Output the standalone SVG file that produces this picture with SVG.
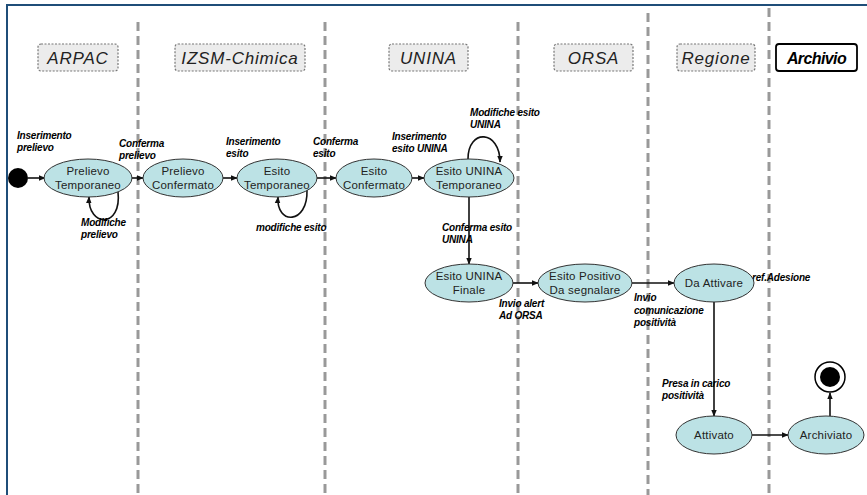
<svg xmlns="http://www.w3.org/2000/svg" width="867" height="495" viewBox="0 0 867 495">
<defs>
<marker id="ah" viewBox="0 0 10 10" refX="9" refY="5" markerWidth="7" markerHeight="7" orient="auto" markerUnits="userSpaceOnUse">
<path d="M0,1 L10,5 L0,9 z" fill="#111"/>
</marker>
<style>
.sep{stroke:#999;stroke-width:3;stroke-dasharray:9 5;fill:none}
.hdr{fill:#ececec;stroke:#777;stroke-width:1.2;stroke-dasharray:2 1.5}
.ht{font-family:"Liberation Sans",Arial,sans-serif;font-size:17px;font-style:italic;fill:#222;text-anchor:middle;letter-spacing:0.8px}
.st{fill:#BCE2E5;stroke:#333;stroke-width:1}
.nt{font-family:"Liberation Sans",Arial,sans-serif;font-size:11.5px;fill:#222;text-anchor:middle;letter-spacing:0.2px}
.lb{font-family:"Liberation Sans",Arial,sans-serif;font-size:10px;font-weight:bold;font-style:italic;fill:#000;letter-spacing:-0.2px}
.cn{stroke:#111;stroke-width:1.6;fill:none;marker-end:url(#ah)}
</style>
</defs>
<rect x="0" y="0" width="867" height="495" fill="#fff"/>
<rect x="7" y="5" width="880" height="510" fill="none" stroke="#1F4E79" stroke-width="2"/>
<g id="separators">
<line class="sep" x1="138" y1="22" x2="138" y2="495"/>
<line class="sep" x1="325" y1="22" x2="325" y2="495"/>
<line class="sep" x1="518" y1="22" x2="518" y2="495"/>
<line class="sep" x1="648" y1="13" x2="648" y2="495"/>
<line class="sep" x1="769" y1="8" x2="769" y2="495"/>
</g>
<g id="lane-ARPAC"><rect class="hdr" x="38" y="44" width="80" height="27" rx="3"/><text class="ht" x="78" y="64">ARPAC</text></g>
<g id="lane-IZSM"><rect class="hdr" x="175" y="44" width="130" height="27" rx="3"/><text class="ht" x="240" y="64">IZSM-Chimica</text></g>
<g id="lane-UNINA"><rect class="hdr" x="389" y="44" width="79" height="27" rx="3"/><text class="ht" x="428.5" y="64">UNINA</text></g>
<g id="lane-ORSA"><rect class="hdr" x="554" y="44" width="79" height="27" rx="3"/><text class="ht" x="593.5" y="64">ORSA</text></g>
<g id="lane-Regione"><rect class="hdr" x="677" y="44" width="78" height="27" rx="3"/><text class="ht" x="716" y="64">Regione</text></g>
<g id="lane-Archivio"><rect x="776" y="44" width="81" height="27" rx="3" fill="#fff" stroke="#000" stroke-width="1.8"/><text class="ht" x="816.5" y="64" style="font-weight:bold;fill:#000;letter-spacing:-0.6px;font-size:16px">Archivio</text></g>

<g id="connectors">
<line class="cn" x1="28" y1="178" x2="45" y2="178"/>
<line class="cn" x1="131" y1="178" x2="143" y2="178"/>
<path class="cn" d="M118,192 C122,228 88,228 89,197"/>
<line class="cn" x1="223" y1="178" x2="237" y2="178"/>
<path class="cn" d="M307,190 C308,225 276,225 278,197"/>
<line class="cn" x1="317" y1="178" x2="336" y2="178"/>
<line class="cn" x1="412" y1="178" x2="424" y2="178"/>
<path class="cn" d="M468,159 C468,128 500,130 500,162"/>
<line class="cn" x1="469" y1="197" x2="469" y2="264"/>
<line class="cn" x1="513" y1="283" x2="538" y2="283"/>
<line class="cn" x1="632" y1="283" x2="674" y2="283"/>
<line class="cn" x1="714" y1="302" x2="714" y2="416"/>
<line class="cn" x1="752" y1="435" x2="788" y2="435"/>
<line class="cn" x1="830" y1="416" x2="830" y2="393"/>
</g>

<g id="labels">
<text class="lb" x="17" y="139">Inserimento</text><text class="lb" x="17" y="151">prelievo</text>
<text class="lb" x="119" y="147">Conferma</text><text class="lb" x="119" y="159">prelievo</text>
<text class="lb" x="81" y="226">Modifiche</text><text class="lb" x="81" y="238">prelievo</text>
<text class="lb" x="226" y="145">Inserimento</text><text class="lb" x="226" y="157">esito</text>
<text class="lb" x="313" y="145">Conferma</text><text class="lb" x="313" y="157">esito</text>
<text class="lb" x="256" y="231">modifiche esito</text>
<text class="lb" x="392" y="140">Inserimento</text><text class="lb" x="392" y="152">esito UNINA</text>
<text class="lb" x="470" y="116">Modifiche esito</text><text class="lb" x="470" y="128">UNINA</text>
<text class="lb" x="442" y="231">Conferma esito</text><text class="lb" x="442" y="243">UNINA</text>
<text class="lb" x="499" y="307">Invio alert</text><text class="lb" x="499" y="319">Ad ORSA</text>
<text class="lb" x="634" y="301">Invio</text><text class="lb" x="634" y="314">comunicazione</text><text class="lb" x="634" y="326">positività</text>
<text class="lb" x="752" y="281">ref.Adesione</text>
<text class="lb" x="662" y="387">Presa in carico</text><text class="lb" x="662" y="399">positività</text>
</g>

<g id="start"><circle cx="18" cy="178" r="10" fill="#000"/></g>
<g id="PrelievoTemporaneo"><ellipse class="st" cx="88" cy="178" rx="44" ry="19"/><text class="nt" x="88" y="175">Prelievo</text><text class="nt" x="88" y="189">Temporaneo</text></g>
<g id="PrelievoConfermato"><ellipse class="st" cx="183" cy="178" rx="40" ry="19"/><text class="nt" x="183" y="175">Prelievo</text><text class="nt" x="183" y="189">Confermato</text></g>
<g id="EsitoTemporaneo"><ellipse class="st" cx="277" cy="178" rx="40" ry="19"/><text class="nt" x="277" y="175">Esito</text><text class="nt" x="277" y="189">Temporaneo</text></g>
<g id="EsitoConfermato"><ellipse class="st" cx="374" cy="178" rx="38" ry="19"/><text class="nt" x="374" y="175">Esito</text><text class="nt" x="374" y="189">Confermato</text></g>
<g id="EsitoUNINATemporaneo"><ellipse class="st" cx="469" cy="178" rx="45" ry="19"/><text class="nt" x="469" y="175">Esito UNINA</text><text class="nt" x="469" y="189">Temporaneo</text></g>
<g id="EsitoUNINAFinale"><ellipse class="st" cx="469" cy="283" rx="44" ry="19"/><text class="nt" x="469" y="280">Esito UNINA</text><text class="nt" x="469" y="294">Finale</text></g>
<g id="EsitoPositivo"><ellipse class="st" cx="585" cy="283" rx="47" ry="19"/><text class="nt" x="585" y="280">Esito Positivo</text><text class="nt" x="585" y="294">Da segnalare</text></g>
<g id="DaAttivare"><ellipse class="st" cx="714" cy="283" rx="40" ry="19"/><text class="nt" x="714" y="287">Da Attivare</text></g>
<g id="Attivato"><ellipse class="st" cx="714" cy="435" rx="38" ry="19"/><text class="nt" x="714" y="439">Attivato</text></g>
<g id="Archiviato"><ellipse class="st" cx="826" cy="435" rx="38" ry="19"/><text class="nt" x="826" y="439">Archiviato</text></g>
<g id="end"><circle cx="830" cy="377" r="15" fill="#fff" stroke="#000" stroke-width="1.5"/><circle cx="830" cy="377" r="10" fill="#000"/></g>
</svg>
